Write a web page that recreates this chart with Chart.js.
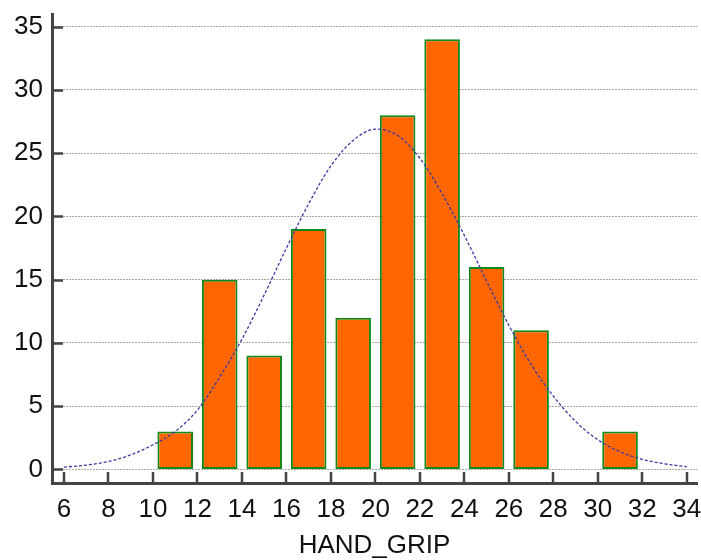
<!DOCTYPE html>
<html lang="en">
<head>
  <meta charset="UTF-8">
  <title>HAND_GRIP</title>
  <script src="https://cdn.jsdelivr.net/npm/chart.js"></script>
  <style>
    body { margin: 0; background: #fff; }
    #wrap { width: 701px; height: 560px; position: relative; }
  </style>
</head>
<body>

<div id="wrap"><canvas id="histChart"></canvas></div>

<script>
  // histogram bins (centre of each 2-unit class) and counts
  const binMids = [11, 13, 15, 17, 19, 21, 23, 25, 27, 29, 31];
  const counts  = [3, 15, 9, 19, 12, 28, 34, 16, 11, 0, 3];

  // fitted normal curve
  const curveX = [6, 7, 8, 9, 10, 11, 12, 13, 14, 15, 16, 17, 18, 19, 20,
                  21, 22, 23, 24, 25, 26, 27, 28, 29, 30, 31, 32, 33, 34];
  const curveY = [0.18, 0.35, 0.63, 1.15, 1.95, 3.0, 4.7, 7.3, 10.3, 13.8, 17.5, 21.0, 24.0, 26.0, 26.9,
                  26.4, 24.6, 21.8, 18.5, 14.9, 11.4, 8.3, 5.8, 3.8, 2.35, 1.4, 0.8, 0.45, 0.21];

  const xTicks = [6, 8, 10, 12, 14, 16, 18, 20, 22, 24, 26, 28, 30, 32, 34];
  const yTicks = [0, 5, 10, 15, 20, 25, 30, 35];
  const xTitle = 'HAND_GRIP';

  const axisColor = '#444';
  const font = { family: 'Liberation Sans, Arial, sans-serif', size: 26 };

  // small tick marks pointing into the plot
  const innerTicks = {
    id: 'innerTicks',
    afterDraw(chart) {
      const { ctx, chartArea, scales } = chart;
      ctx.save();
      ctx.strokeStyle = axisColor;
      ctx.lineWidth = 2.5;
      ctx.beginPath();
      yTicks.forEach(v => {
        const y = Math.round(scales.y.getPixelForValue(v)) + 0.5;
        ctx.moveTo(chartArea.left, y);
        ctx.lineTo(chartArea.left + 11, y);
      });
      xTicks.forEach(v => {
        const x = Math.round(scales.x.getPixelForValue(v));
        ctx.moveTo(x, chartArea.bottom);
        ctx.lineTo(x, chartArea.bottom - 11);
      });
      ctx.stroke();
      ctx.restore();
    }
  };

  const noEdgePad = s => {
    s.paddingLeft = 0; s.paddingRight = 0;
    s.paddingTop = 0; s.paddingBottom = 0;
  };

  const barData = binMids
    .map((x, i) => ({ x: x, y: counts[i] }))
    .filter(p => p.y > 0);

  const ctx = document.getElementById('histChart').getContext('2d');
  new Chart(ctx, {
    type: 'bar',
    data: {
      datasets: [{
        type: 'line',
        data: curveX.map((x, i) => ({ x: x, y: curveY[i] })),
        borderColor: '#3a3aa6',
        borderWidth: 1.3,
        borderDash: [3, 2],
        pointRadius: 0,
        cubicInterpolationMode: 'monotone',
        order: 0
      }, {
        data: barData,
        backgroundColor: '#ff6600',
        borderColor: '#11881a',
        borderWidth: 2,
        borderSkipped: false,
        barPercentage: 0.8,
        categoryPercentage: 1,
        order: 1
      }]
    },
    options: {
      responsive: true,
      maintainAspectRatio: false,
      animation: false,
      layout: { padding: { top: 14, right: 4, left: 0, bottom: 0 } },
      plugins: { legend: { display: false }, tooltip: { enabled: false } },
      scales: {
        x: {
          type: 'linear',
          min: 5.46,
          max: 34.46,
          offset: false,
          grid: { display: false, drawTicks: false },
          border: { display: true, color: axisColor, width: 3 },
          afterBuildTicks: s => { s.ticks = xTicks.map(v => ({ value: v })); },
          afterFit: s => { s.height = 77; noEdgePad(s); },
          ticks: { font: font, color: '#111', padding: 11, autoSkip: false, maxRotation: 0 },
          title: {
            display: true, text: xTitle, color: '#111',
            font: { family: font.family, size: 26, lineHeight: 1 },
            padding: { top: 0, bottom: 1 }
          }
        },
        y: {
          min: -1.07,
          max: 36,
          grid: { color: '#a8a8a8', lineWidth: 1, drawTicks: false },
          border: { display: true, color: axisColor, width: 3, dash: [2, 1] },
          afterBuildTicks: s => { s.ticks = yTicks.map(v => ({ value: v })); },
          afterFit: s => { s.width = 52; noEdgePad(s); },
          ticks: { font: font, color: '#111', padding: 9 }
        }
      }
    },
    plugins: [innerTicks]
  });
</script>

</body>
</html>
